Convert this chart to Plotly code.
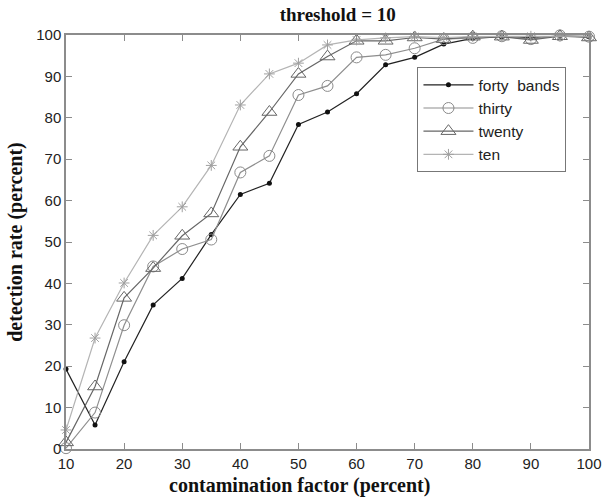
import plotly.graph_objects as go

# contamination factor (percent)
contamination = [10, 15, 20, 25, 30, 35, 40, 45, 50, 55, 60, 65, 70, 75, 80, 85, 90, 95, 100]

# detection rate (percent) per band count
forty_bands = [19.3, 5.8, 21.1, 34.8, 41.2, 51.8, 61.5, 64.2, 78.4, 81.4, 85.8, 92.8, 94.6, 97.8, 99.2, 99.6, 99.4, 99.7, 99.6]
thirty = [0.2, 8.8, 29.9, 44.1, 48.3, 50.6, 66.8, 70.8, 85.5, 87.7, 94.6, 95.2, 96.8, 99.0, 99.3, 99.7, 99.0, 99.9, 99.6]
twenty = [1.6, 15.1, 36.5, 43.7, 51.5, 56.9, 73.0, 81.4, 90.6, 94.8, 98.6, 98.6, 99.4, 99.0, 99.6, 99.6, 98.8, 99.7, 99.4]
ten = [4.6, 26.8, 40.1, 51.6, 58.5, 68.5, 83.1, 90.6, 93.2, 97.6, 98.8, 99.3, 99.6, 99.4, 99.6, 99.7, 99.7, 99.7, 99.7]

x_ticks = [10, 20, 30, 40, 50, 60, 70, 80, 90, 100]
y_ticks = [0, 10, 20, 30, 40, 50, 60, 70, 80, 90, 100]

series = [
    ("forty  bands", forty_bands, "#222222", dict(symbol="circle", size=5, color="#111111")),
    ("thirty", thirty, "#8e8e8e", dict(symbol="circle-open", size=11, color="#8a8a8a", line=dict(width=1))),
    ("twenty", twenty, "#666666", dict(symbol="triangle-up-open", size=13, color="#666666", line=dict(width=1))),
    ("ten", ten, "#b4b4b4", dict(symbol="asterisk-open", size=9, color="#a0a0a0", line=dict(width=1))),
]

fig = go.Figure()
for name, vals, col, mk in series:
    fig.add_trace(go.Scatter(
        x=contamination, y=vals, name=name, mode="lines+markers",
        line=dict(color=col, width=1.2), marker=mk, cliponaxis=False,
    ))

serif = "Liberation Serif, Times New Roman"
sans = "Liberation Sans, Arial"

axis_common = dict(
    showline=True, linecolor="#8c8c8c", linewidth=1.5, mirror="allticks",
    ticks="inside", ticklen=6, tickcolor="#8c8c8c", showgrid=False, zeroline=False,
    tickfont=dict(family=sans, size=15, color="#222222"),
)

fig.update_layout(
    width=614, height=497,
    margin=dict(l=66, r=13, t=35, b=48),
    paper_bgcolor="white", plot_bgcolor="white",
    title=dict(text="<b>threshold = 10</b>", x=0.55, xanchor="center", y=0.985, yanchor="top",
               font=dict(family=serif, size=19, color="#111111")),
    xaxis=dict(axis_common, range=[10, 100], tickvals=x_ticks),
    yaxis=dict(axis_common, range=[0, 100], tickvals=y_ticks,
               title=dict(text="<b>detection rate (percent)</b>", standoff=8,
                          font=dict(family=serif, size=20, color="#111111"))),
    legend=dict(x=0.672, y=0.922, xanchor="left", yanchor="top",
                bgcolor="white", bordercolor="#777777", borderwidth=1,
                itemwidth=50, tracegroupgap=0,
                font=dict(family=sans, size=15.5, color="#222222")),
    showlegend=True,
)

# x-axis label, set slightly left of the axis centre
fig.add_annotation(
    text="<b>contamination factor (percent)</b>", xref="paper", yref="paper",
    x=0.446, y=-0.087, xanchor="center", yanchor="middle", showarrow=False,
    font=dict(family=serif, size=20, color="#111111"),
)

fig.write_html("out.html")
